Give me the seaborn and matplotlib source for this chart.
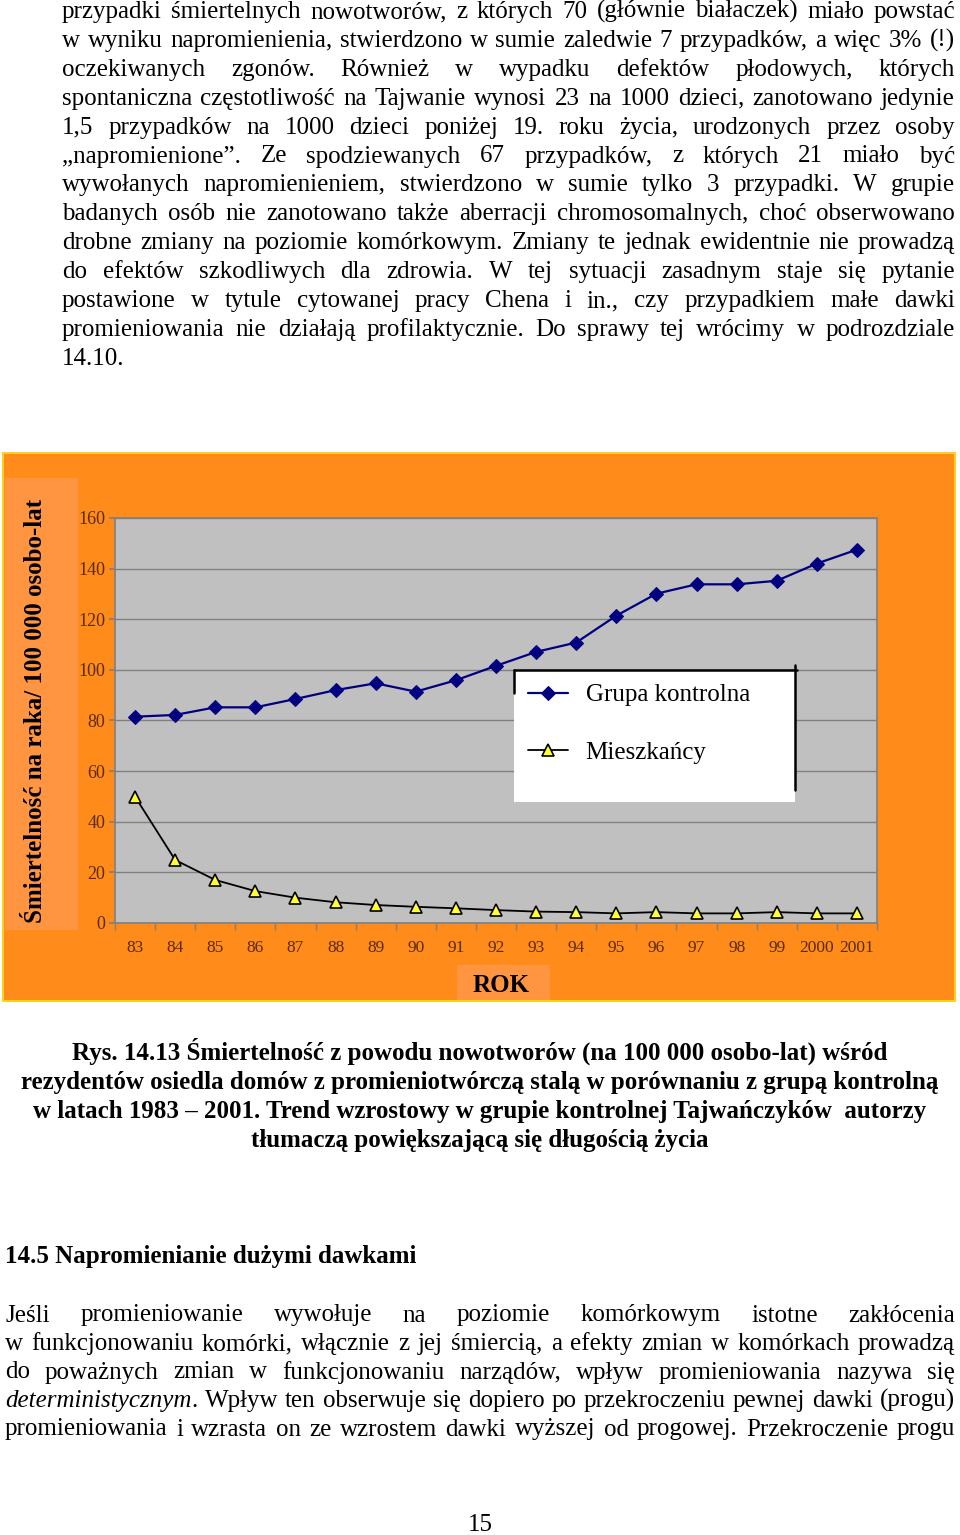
#!/usr/bin/env python3

import numpy as np
import pandas as pd
import seaborn as sns
import matplotlib
matplotlib.use('Agg')
import matplotlib.pyplot as plt
from matplotlib.patches import Rectangle
from matplotlib.lines import Line2D

sns.set_theme(style='white')
plt.rcParams['font.family'] = ['Liberation Serif', 'DejaVu Serif']
plt.rcParams['text.color'] = 'black'

W, H = 960, 1535

years = ['83', '84', '85', '86', '87', '88', '89', '90', '91', '92',
         '93', '94', '95', '96', '97', '98', '99', '2000', '2001']
control = [81.5, 82.2, 85.2, 85.2, 88.5, 92.0, 94.7, 91.4, 95.9, 101.6,
           107.1, 110.8, 121.4, 130.1, 133.8, 133.8, 135.2, 142.0, 147.5]
residents = [49.9, 24.9, 17.0, 12.6, 10.0, 8.2, 7.1, 6.4, 5.8, 5.1,
             4.5, 4.3, 3.8, 4.3, 3.8, 3.8, 4.3, 3.8, 3.8]
y_ticks = [0, 20, 40, 60, 80, 100, 120, 140, 160]

series_names = ['Grupa kontrolna', 'Mieszkańcy']
y_label = 'Śmiertelność na raka/ 100 000 osobo-lat'
x_label = 'ROK'

top_lines = [
    'przypadki śmiertelnych nowotworów, z których 70 (głównie białaczek) miało powstać',
    'w wyniku napromienienia, stwierdzono w sumie zaledwie 7 przypadków, a więc 3% (!)',
    'oczekiwanych zgonów. Również w wypadku defektów płodowych, których',
    'spontaniczna częstotliwość na Tajwanie wynosi 23 na 1000 dzieci, zanotowano jedynie',
    '1,5 przypadków na 1000 dzieci poniżej 19. roku życia, urodzonych przez osoby',
    '„napromienione”. Ze spodziewanych 67 przypadków, z których 21 miało być',
    'wywołanych napromienieniem, stwierdzono w sumie tylko 3 przypadki. W grupie',
    'badanych osób nie zanotowano także aberracji chromosomalnych, choć obserwowano',
    'drobne zmiany na poziomie komórkowym. Zmiany te jednak ewidentnie nie prowadzą',
    'do efektów szkodliwych dla zdrowia. W tej sytuacji zasadnym staje się pytanie',
    'postawione w tytule cytowanej pracy Chena i in., czy przypadkiem małe dawki',
    'promieniowania nie działają profilaktycznie. Do sprawy tej wrócimy w podrozdziale',
    '14.10.',
]
caption_lines = [
    'Rys. 14.13 Śmiertelność z powodu nowotworów (na 100 000 osobo-lat) wśród',
    'rezydentów osiedla domów z promieniotwórczą stalą w porównaniu z grupą kontrolną',
    'w latach 1983 – 2001. Trend wzrostowy w grupie kontrolnej Tajwańczyków  autorzy',
    'tłumaczą powiększającą się długością życia',
]
heading = '14.5 Napromienianie dużymi dawkami'
bottom_lines = [
    'Jeśli promieniowanie wywołuje na poziomie komórkowym istotne zakłócenia',
    'w funkcjonowaniu komórki, włącznie z jej śmiercią, a efekty zmian w komórkach prowadzą',
    'do poważnych zmian w funkcjonowaniu narządów, wpływ promieniowania nazywa się',
    '*deterministycznym*. Wpływ ten obserwuje się dopiero po przekroczeniu pewnej dawki (progu)',
    'promieniowania i wzrasta on ze wzrostem dawki wyższej od progowej. Przekroczenie progu',
]
page_number = '15'

ORANGE = '#FF8C1A'
LIGHT_ORANGE = '#FF9540'
PLOT_GRAY = '#C0C0C0'
TICK_COLOR = '#5A2A0A'

fig = plt.figure(figsize=(W / 100, H / 100), dpi=100)
fig.patch.set_facecolor('white')
renderer = fig.canvas.get_renderer()


def fx(px):
    return px / W


def fy(py):
    return 1 - py / H


def fig_rect(x0, y0, x1, y1, **kw):
    fig.patches.append(Rectangle((fx(x0), fy(y1)), fx(x1 - x0), (y1 - y0) / H,
                                 transform=fig.transFigure, zorder=-5, **kw))


def split_word(token):
    # *...* marks italic part of a word
    if token.startswith('*'):
        end = token.index('*', 1)
        parts = [(token[1:end], 'italic')]
        if token[end + 1:]:
            parts.append((token[end + 1:], 'normal'))
        return parts
    return [(token, 'normal')]


def justified(line, x0, x1, base, size=18, weight='normal'):
    words = line.split()
    while True:
        items = []
        for w in words:
            segs = []
            for txt, style in split_word(w):
                t = fig.text(0, fy(base), txt, fontsize=size, style=style,
                             weight=weight, va='baseline', ha='left')
                segs.append((t, t.get_window_extent(renderer).width))
            items.append(segs)
        total = sum(sum(s[1] for s in segs) for segs in items)
        gap = (x1 - x0 - total) / max(len(items) - 1, 1)
        if gap >= size * 0.2 or size < 10:
            break
        for segs in items:
            for t, _ in segs:
                t.remove()
        size -= 0.25
    x = x0
    for segs in items:
        for t, w in segs:
            t.set_x(fx(x))
            x += w
        x += gap


# page text above the chart
for i, line in enumerate(top_lines):
    base = 18 + 28.9 * i
    if i < len(top_lines) - 1:
        justified(line, 62, 955, base)
    else:
        fig.text(fx(62), fy(base), line, fontsize=18, va='baseline', ha='left')

# chart background panels
fig_rect(2, 452, 956, 1002, facecolor='#FFD21A', edgecolor='none')
fig_rect(4, 454, 954, 1000, facecolor=ORANGE, edgecolor='none')
fig_rect(5, 478, 78, 930, facecolor=LIGHT_ORANGE, edgecolor='none')
fig_rect(457, 965, 550, 1000, facecolor=LIGHT_ORANGE, edgecolor='none')

ax = fig.add_axes([fx(115), fy(923), fx(877 - 115), 405 / H])
ax.set_zorder(2)
ax.set_facecolor(PLOT_GRAY)

df = pd.DataFrame({'pos': np.arange(len(years)), 'control': control,
                   'residents': residents})

sns.lineplot(data=df, x='pos', y='control', ax=ax, color='#000080',
             linewidth=1.6, marker='D', markersize=7.5,
             markerfacecolor='#000080', markeredgecolor='#000080',
             label=series_names[0], legend=False)
sns.lineplot(data=df, x='pos', y='residents', ax=ax, color='black',
             linewidth=1.3, marker='^', markersize=8.5,
             markerfacecolor='#FFFF33', markeredgecolor='black',
             markeredgewidth=1.2, label=series_names[1], legend=False)

ax.set_xlim(-0.5, len(years) - 0.5)
ax.set_ylim(0, 160)
ax.set_yticks(y_ticks)
ax.set_yticklabels([str(v) for v in y_ticks])
ax.set_xticks(df['pos'])
ax.set_xticklabels(years)
ax.set_xticks(np.arange(len(years) + 1) - 0.5, minor=True)
ax.grid(axis='y', color='#808080', linewidth=1)
ax.set_axisbelow(True)
for s in ax.spines.values():
    s.set_color('#808080')
    s.set_linewidth(1.2)
ax.tick_params(axis='x', which='major', length=0, pad=12,
               labelsize=12.5, labelcolor=TICK_COLOR)
ax.tick_params(axis='x', which='minor', length=5, color='#808080',
               direction='out', bottom=True)
ax.tick_params(axis='y', length=4, color='#808080', direction='out',
               left=True, pad=3, labelsize=13, labelcolor=TICK_COLOR)
ax.set_xlabel('')
ax.set_ylabel('')

# legend box
lx0, lx1 = (514 - 115) / 762, (795 - 115) / 762
ly0, ly1 = (923 - 802) / 405, (923 - 670) / 405
ax.add_patch(Rectangle((lx0, ly0), lx1 - lx0, ly1 - ly0, transform=ax.transAxes,
                       facecolor='white', edgecolor='none', zorder=5))
ax.add_line(Line2D([lx0, lx1 + 0.003], [ly1, ly1], transform=ax.transAxes,
                   color='black', linewidth=1.8, zorder=6))
ax.add_line(Line2D([lx0, lx0], [ly1, (923 - 693) / 405], transform=ax.transAxes,
                   color='black', linewidth=1.8, zorder=6))
ax.add_line(Line2D([lx1, lx1], [(923 - 665) / 405, (923 - 790) / 405],
                   transform=ax.transAxes, color='black', linewidth=1.8, zorder=6))
leg = ax.legend(loc='upper left', bbox_to_anchor=((528 - 115) / 762, (923 - 684) / 405),
                frameon=False, fontsize=18, handlelength=1.6, handletextpad=0.7,
                labelspacing=1.4, borderpad=0, borderaxespad=0)
leg.set_zorder(7)
for t in leg.get_texts():
    t.set_color('black')

# axis titles
fig.text(fx(36), fy(711), y_label, rotation=90, fontsize=18, weight='bold',
         ha='center', va='center')
fig.text(fx(501), fy(986), x_label, fontsize=18, weight='bold',
         ha='center', va='center')

# caption
for i, line in enumerate(caption_lines):
    fig.text(fx(480), fy(1060 + 29 * i), line, fontsize=18, weight='bold',
             ha='center', va='baseline')

fig.text(fx(5), fy(1263), heading, fontsize=18, weight='bold',
         ha='left', va='baseline')

for i, line in enumerate(bottom_lines):
    justified(line, 5, 955, 1321.5 + 28.5 * i)

fig.text(fx(480), fy(1531), page_number, fontsize=18, ha='center', va='baseline')

fig.savefig('out.png', dpi=100, facecolor='white')
